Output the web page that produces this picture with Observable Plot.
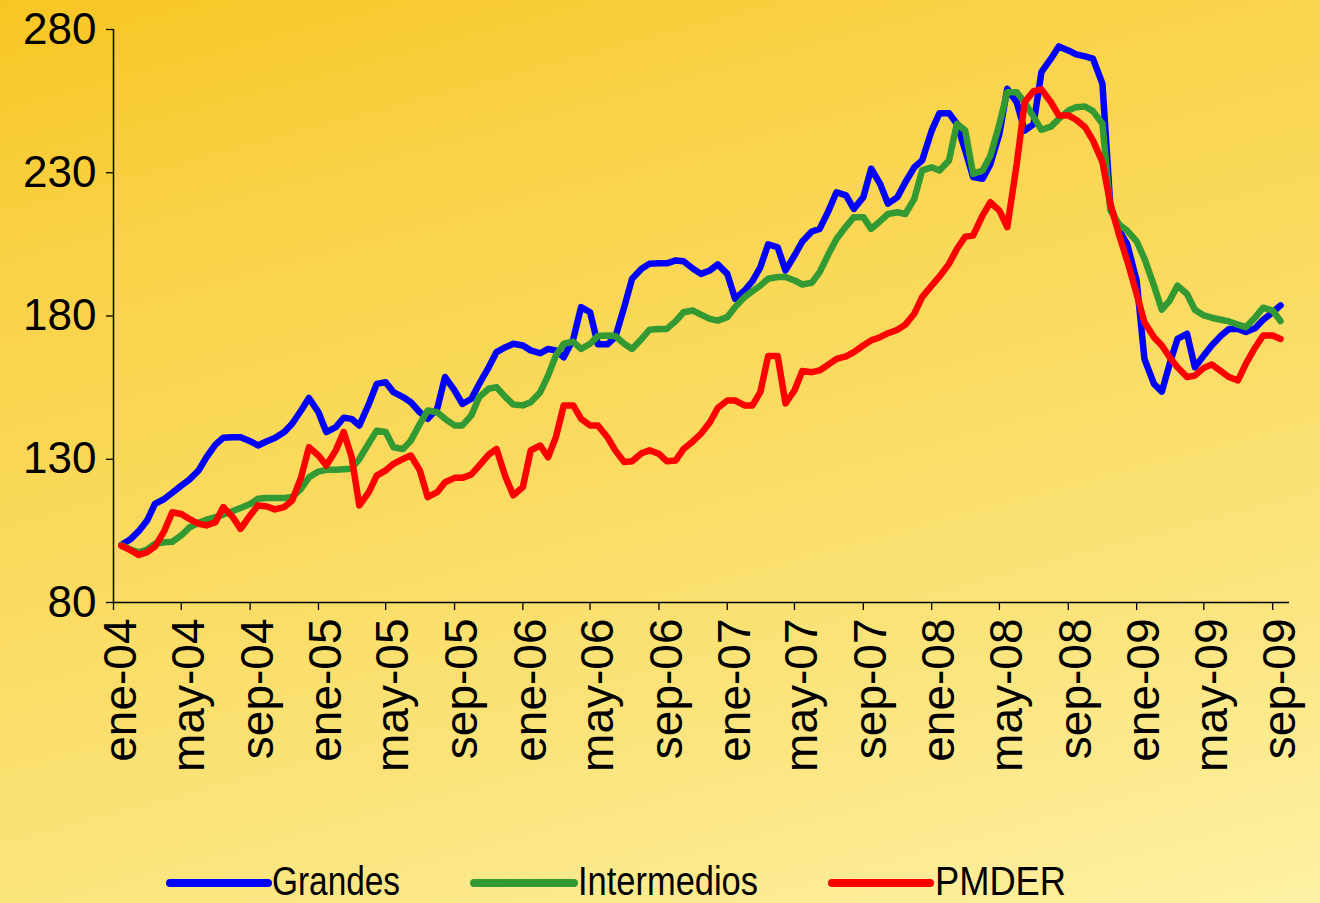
<!DOCTYPE html>
<html><head><meta charset="utf-8">
<script src="https://cdn.jsdelivr.net/npm/d3@7"></script>
<script src="https://cdn.jsdelivr.net/npm/@observablehq/plot@0.6"></script>
<style>
html,body{margin:0;padding:0;}
#page{position:relative;width:1320px;height:903px;overflow:hidden;
background:linear-gradient(165deg,#f8c623 0%,#f9d247 22%,#fadb60 48%,#fbe47c 72%,#fef1a4 100%);
font-family:"Liberation Sans",Arial,sans-serif;}
#chart{position:absolute;left:0;top:0;}
#legend{position:absolute;left:0;top:855px;}
</style></head><body><div id="page"><div id="chart"></div><svg id="legend" width="1320" height="48"></svg></div>
<script>
// Semi-monthly observations starting 15 Jan 2004 (15th, 1st, 15th, ...)
const grandes = [
100.1,102.2,104.9,108.6,114.4,116.2,118.3,120.8,122.8,126.1,130.7,135.1,137.5,137.7,137.7,136.3,134.8,136.3,137.4,139.5,142.4,147.0,151.4,146.4,139.5,141.2,144.5,
144.1,141.8,149.3,156.3,156.9,153.4,151.7,149.9,146.4,144.1,147.6,158.7,154.0,149.3,151.1,156.3,162.1,167.4,169.1,170.3,169.7,168.0,167.0,168.5,168.0,165.6,
172.0,183.1,181.3,170.1,170.1,172.6,183.1,193.0,196.5,198.2,198.4,198.4,199.4,199.1,196.5,194.7,195.9,198.0,194.7,186.0,188.9,192.2,197.0,205.0,204.0,195.9,201.1,
206.0,209.5,210.4,216.8,223.2,222.1,217.4,221.5,231.4,226.1,219.2,221.5,226.7,231.9,234.3,244.7,250.8,250.8,247.1,237.8,228.5,227.9,233.1,243.6,259.3,254.6,244.7,
247.0,265.1,269.8,274.1,272.7,271.3,270.6,269.8,261.0,218.6,209.8,205.2,192.4,165.0,156.3,153.6,163.3,172.0,173.8,162.1,166.2,169.7,173.2,175.5,175.5,174.4,175.8,178.7,181.3,183.7];
const intermedios = [
100,98.5,97.5,98.5,100.5,101,101.2,103.4,106.1,107.8,108.9,109.8,110.7,111.9,113.0,114.4,116.2,116.5,116.5,116.5,116.8,119.7,123.7,125.7,126.3,126.3,126.5,
126.7,130.1,135.6,140.0,139.5,134.2,133.6,136.5,142.4,147.0,146.4,144.1,141.8,141.8,145.3,151.7,154.6,155.2,151.7,149.1,148.8,149.9,153.4,159.2,166.2,170.3,
171.0,168.5,170.3,173.0,173.2,173.0,170.3,168.5,172.0,175.2,175.5,175.5,178.2,181.3,181.9,180.5,179.0,178.4,179.6,183.1,186.6,188.7,190.6,193.0,193.6,193.6,192.4,
191.0,191.6,195.3,201.7,206.9,211.2,214.5,214.5,210.4,213.1,215.6,216.2,215.6,220.9,230.8,231.9,230.8,234.3,247.1,244.7,229.6,230.8,236.0,247.1,258.1,258.1,254.6,
249.5,245.0,246.1,248.8,251.7,252.9,253.1,251.5,247.1,217.0,211.9,209.8,206.1,200.0,190.6,182.2,185.4,190.6,187.7,182.2,180.2,179.4,178.7,178.1,177.0,176.1,179.6,182.9,181.9,178.2];
const pmder = [
99.8,98.2,96.6,97.6,99.5,105.1,111.5,110.9,109.2,107.5,106.9,108.0,113.3,109.8,105.7,110.4,113.9,113.5,112.5,113.3,115.6,123.7,134.2,131.3,127.8,133.1,139.5,
131.0,113.9,118.5,124.3,126.1,128.4,130.1,131.3,126.1,116.8,118.5,122.0,123.5,123.5,124.7,127.8,131.6,133.6,123.8,117.4,120.3,133.1,134.8,130.7,137.7,148.8,
148.8,144.1,141.8,141.8,137.7,133.1,129.0,129.3,132.1,133.1,131.9,129.3,129.6,133.6,136.3,138.9,142.9,147.9,150.5,150.5,148.8,148.8,153.4,166.0,166.0,149.5,154.0,
160.8,160.4,161.0,163.1,165.0,165.9,167.4,169.7,171.5,172.6,174.0,175.2,177.0,180.8,186.6,190.6,193.8,198.2,203.4,207.7,208.1,215.1,219.7,216.8,211.0,233.1,254.6,
258.5,259.1,254.6,250.0,250.0,248.5,245.9,241.3,233.7,219.2,208.1,199.4,187.7,177.8,172.6,169.7,165.6,162.1,158.7,159.2,161.9,163.1,160.7,158.7,157.5,163.3,169.1,173.2,173.2,172.0];

const seriesNames = ["Grandes", "Intermedios", "PMDER"];
const seriesColors = ["#0000ff", "#339933", "#ff0000"];
const yTicks = [80, 130, 180, 230, 280];
const xTickDates = ["2004-01-01","2004-05-01","2004-09-01","2005-01-01","2005-05-01","2005-09-01","2006-01-01","2006-05-01","2006-09-01","2007-01-01","2007-05-01","2007-09-01","2008-01-01","2008-05-01","2008-09-01","2009-01-01","2009-05-01","2009-09-01"];
const xTickLabels = ["ene-04","may-04","sep-04","ene-05","may-05","sep-05","ene-06","may-06","sep-06","ene-07","may-07","sep-07","ene-08","may-08","sep-08","ene-09","may-09","sep-09"];

const start = new Date(Date.UTC(2004, 0, 1));
const dateOf = k => { const m = d3.utcMonth.offset(start, Math.ceil(k / 2)); return k % 2 === 0 ? d3.utcDay.offset(m, 14) : m; };
const allSeries = [grandes, intermedios, pmder];
const rows = [];
allSeries.forEach((arr, s) => arr.forEach((v, k) => rows.push({date: dateOf(k), value: v, serie: seriesNames[s]})));

const tickDates = xTickDates.map(d => new Date(d + "T00:00:00Z"));
const labelOf = new Map(tickDates.map((d, i) => [+d, xTickLabels[i]]));
const x0 = new Date(Date.UTC(2004, 0, 1)), x1 = new Date(Date.UTC(2009, 9, 1));

const chart = Plot.plot({
  width: 1320, height: 860,
  marginLeft: 113, marginRight: 31, marginTop: 29, marginBottom: 258,
  style: {background: "transparent", fontFamily: "'Liberation Sans', Arial, sans-serif", color: "#000", overflow: "visible"},
  x: {type: "utc", domain: [x0, x1]},
  y: {domain: [80, 280]},
  color: {domain: seriesNames, range: seriesColors},
  marks: [
    Plot.axisY({ticks: yTicks, tickSize: 7, tickPadding: 10, fontSize: 44, label: null, stroke: "#000", strokeWidth: 1.3}),
    Plot.axisX({ticks: tickDates, tickFormat: d => labelOf.get(+d), tickRotate: -90, tickSize: 8, tickPadding: 8, fontSize: 46, label: null, stroke: "#000", strokeWidth: 1.3}),
    Plot.ruleX([x0], {stroke: "#000", strokeWidth: 1.5}),
    Plot.ruleY([80], {stroke: "#000", strokeWidth: 1.5}),
    Plot.line(rows, {x: "date", y: "value", z: "serie", stroke: "serie", strokeWidth: 6.5, strokeLinejoin: "round", strokeLinecap: "round"})
  ]
});
document.getElementById("chart").appendChild(chart);
// nudge the rotated x tick labels slightly to the right, as in the reference
chart.querySelectorAll('g[aria-label="x-axis tick label"]').forEach(g => {
  g.setAttribute("transform", ((g.getAttribute("transform") || "") + " translate(8,0)").trim());
});

// Legend
const leg = d3.select("#legend");
const legItems = [
  {lx0: 170, lx1: 268, tx: 272, tl: 128},
  {lx0: 474, lx1: 574, tx: 578, tl: 180},
  {lx0: 832, lx1: 930, tx: 935, tl: 131}
];
seriesNames.forEach((name, i) => {
  const it = legItems[i];
  leg.append("line").attr("x1", it.lx0).attr("x2", it.lx1).attr("y1", 28).attr("y2", 28)
    .attr("stroke", seriesColors[i]).attr("stroke-width", 8).attr("stroke-linecap", "round");
  leg.append("text").attr("x", it.tx).attr("y", 40).attr("font-size", 40)
    .attr("font-family", "'Liberation Sans', Arial, sans-serif")
    .attr("textLength", it.tl).attr("lengthAdjust", "spacingAndGlyphs").attr("fill", "#000").text(name);
});
</script></body></html>
